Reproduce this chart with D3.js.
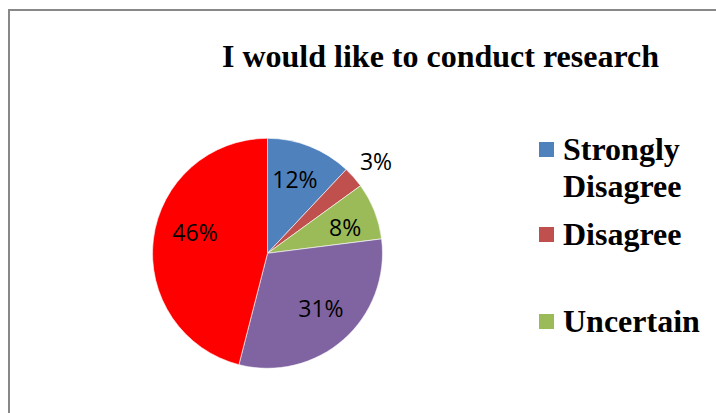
<!DOCTYPE html>
<html>
<head>
<meta charset="utf-8">
<script src="https://cdn.jsdelivr.net/npm/d3@7"></script>
<style>
  html, body { margin: 0; padding: 0; background: #fff; }
  svg { display: block; }
</style>
</head>
<body>
<svg id="chart" width="716" height="413"></svg>
<script>
const title = "I would like to conduct research";
const categories = ["Strongly Disagree", "Disagree", "Uncertain", "Agree", "Strongly Agree"];
const values = [12, 3, 8, 31, 46];
const labels = ["12%", "3%", "8%", "31%", "46%"];
const colors = ["#4F81BD", "#C0504D", "#9BBB59", "#8064A2", "#FF0000"];
const legendLines = [["Strongly", "Disagree"], ["Disagree"], ["Uncertain"]];

const svg = d3.select("#chart");

// chart border (extends beyond the visible area on right and bottom)
svg.append("rect")
  .attr("x", 9).attr("y", 10)
  .attr("width", 760).attr("height", 460)
  .attr("fill", "none").attr("stroke", "#888888").attr("stroke-width", 2);

svg.append("text")
  .attr("x", 222).attr("y", 67)
  .attr("font-family", "'Liberation Serif', 'Times New Roman', serif")
  .attr("font-weight", "bold").attr("font-size", 32)
  .attr("fill", "#000")
  .text(title);

const cx = 267.5, cy = 253.3, r = 115;
const pie = d3.pie().sort(null).value(d => d)(values);
const arc = d3.arc().innerRadius(0).outerRadius(r);

const g = svg.append("g").attr("transform", `translate(${cx},${cy})`);
g.selectAll("path").data(pie).join("path")
  .attr("d", arc)
  .attr("fill", (d, i) => colors[i])
  .attr("stroke", "#ffffff").attr("stroke-width", 0.6);

// label placement: radius fraction and small angular nudge (degrees)
const labelR = [0.685, 1.235, 0.71, 0.67, 0.655];
const labelNudge = [-1.2, 1.2, 3.6, -2.5, 8.5];
g.selectAll("text.lbl").data(pie).join("text")
  .attr("class", "lbl")
  .attr("transform", (d, i) => {
    const a = (d.startAngle + d.endAngle) / 2 + labelNudge[i] * Math.PI / 180;
    const rr = r * labelR[i];
    return `translate(${rr * Math.sin(a)},${-rr * Math.cos(a)})`;
  })
  .attr("text-anchor", "middle")
  .attr("dy", "0.36em")
  .attr("font-family", "'Open Sans', 'Noto Sans', sans-serif")
  .attr("font-size", 23)
  .attr("fill", "#000")
  .text((d, i) => labels[i]);

// legend
const legendY = [142, 227, 314];
const lg = svg.append("g");
legendLines.forEach((lines, i) => {
  lg.append("rect")
    .attr("x", 539).attr("y", legendY[i])
    .attr("width", 15).attr("height", 15)
    .attr("fill", colors[i]);
  const t = lg.append("text")
    .attr("x", 563).attr("y", legendY[i] + 18)
    .attr("font-family", "'Liberation Serif', 'Times New Roman', serif")
    .attr("font-weight", "bold").attr("font-size", 32)
    .attr("fill", "#000");
  lines.forEach((ln, j) => {
    t.append("tspan").attr("x", 563).attr("dy", j === 0 ? 0 : 36.5).text(ln);
  });
});
</script>
</body>
</html>
